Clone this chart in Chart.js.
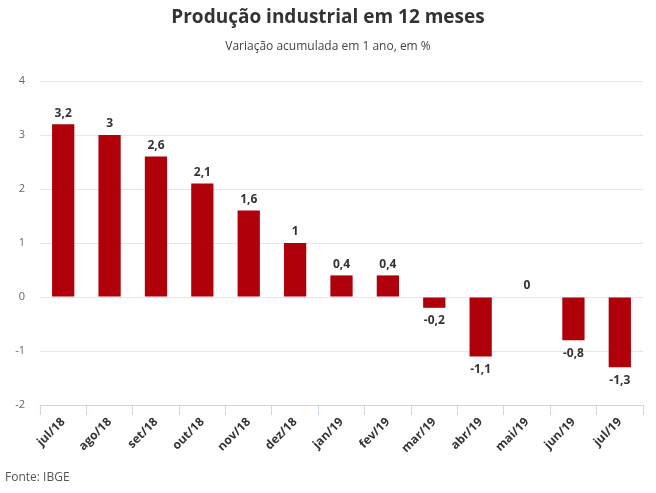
<!DOCTYPE html>
<html>
<head>
<meta charset="utf-8">
<script src="https://cdn.jsdelivr.net/npm/chart.js@4"></script>
<style>
html,body{margin:0;padding:0;background:#fff;}
#wrap{position:relative;width:656px;height:493px;}
canvas{display:block;}
</style>
</head>
<body>
<div id="wrap"><canvas id="c" width="656" height="493"></canvas></div>
<script>
const categories = ["jul/18","ago/18","set/18","out/18","nov/18","dez/18","jan/19","fev/19","mar/19","abr/19","mai/19","jun/19","jul/19"];
const values = [3.2, 3, 2.6, 2.1, 1.6, 1, 0.4, 0.4, -0.2, -1.1, 0, -0.8, -1.3];
const yTicks = [-2, -1, 0, 1, 2, 3, 4];
const titleText = "Produção industrial em 12 meses";
const subtitleText = "Variação acumulada em 1 ano, em %";
const sourceText = "Fonte: IBGE";

const FONT = "'Open Sans', sans-serif";

const textPlugin = {
  id: 'texts',
  afterDraw(chart) {
    const ctx = chart.ctx;
    ctx.save();
    ctx.textAlign = 'center';
    ctx.textBaseline = 'middle';
    ctx.fillStyle = '#333333';
    ctx.font = "bold 19px " + FONT;
    ctx.fillText(titleText, 328, 18);
    ctx.fillStyle = '#444444';
    ctx.font = "12px " + FONT;
    ctx.fillText(subtitleText, 328, 47);
    ctx.textAlign = 'left';
    ctx.fillStyle = '#555555';
    ctx.font = "12px " + FONT;
    ctx.fillText(sourceText, 5, 478);
    ctx.restore();
  }
};

const labelPlugin = {
  id: 'valueLabels',
  afterDatasetsDraw(chart) {
    const ctx = chart.ctx;
    const meta = chart.getDatasetMeta(0);
    ctx.save();
    ctx.font = "bold 12px " + FONT;
    ctx.fillStyle = '#333333';
    ctx.textAlign = 'center';
    meta.data.forEach((bar, i) => {
      const v = values[i];
      const txt = String(v).replace('.', ',');
      if (v >= 0) {
        ctx.textBaseline = 'bottom';
        ctx.fillText(txt, bar.x, bar.y - 5);
      } else {
        ctx.textBaseline = 'top';
        ctx.fillText(txt, bar.x, bar.y + 7);
      }
    });
    ctx.restore();
  }
};

new Chart(document.getElementById('c'), {
  type: 'bar',
  data: {
    labels: categories,
    datasets: [{
      data: values,
      backgroundColor: '#b0000a',
      borderWidth: 0,
      barPercentage: 0.48,
      categoryPercentage: 1.0
    }]
  },
  options: {
    responsive: false,
    animation: false,
    devicePixelRatio: 1,
    layout: { padding: { left: 0, right: 13, top: 81, bottom: 0 } },
    plugins: {
      legend: { display: false },
      tooltip: { enabled: false },
      title: { display: false }
    },
    scales: {
      y: {
        min: -2, max: 4,
        afterFit(scale) { scale.width = 40; },
        afterBuildTicks(scale) { scale.ticks = yTicks.map(v => ({ value: v })); },
        grid: { color: '#e6e6e6', drawTicks: false, lineWidth: 1 },
        border: { display: false },
        ticks: {
          padding: 15,
          color: '#666666',
          font: { family: FONT, size: 11 },
          callback: v => String(v)
        }
      },
      x: {
        offset: true,
        afterFit(scale) { scale.height = 88; },
        grid: { offset: true, drawOnChartArea: false, drawTicks: true, tickLength: 10, color: '#ccd6eb' },
        border: { display: true, color: '#ccd6eb' },
        ticks: {
          color: '#333333',
          autoSkip: false,
          maxRotation: 45,
          minRotation: 45,
          padding: 0,
          font: { family: FONT, size: 12, weight: 'bold' }
        }
      }
    }
  },
  plugins: [textPlugin, labelPlugin]
});
</script>
</body>
</html>
